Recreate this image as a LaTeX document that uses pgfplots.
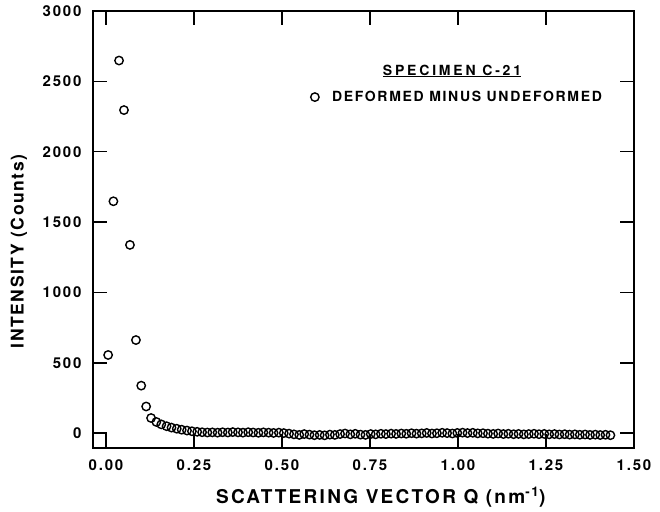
\documentclass[border=0pt]{standalone}
\usepackage{fontspec}
\usepackage{pgfplots}
\pgfplotsset{compat=1.18}
\setmainfont{TeX Gyre Heros}
\newfontfamily\tickfont{TeX Gyre Heros}[LetterSpace=12]
\newfontfamily\xlabfont{TeX Gyre Heros}[LetterSpace=12]
\newfontfamily\ylabfont{TeX Gyre Heros}[LetterSpace=9]
\newfontfamily\legfont{TeX Gyre Heros}[LetterSpace=12]
\newfontfamily\titfont{TeX Gyre Heros}[LetterSpace=20]
\newcommand\tickf{\tickfont\bfseries\fontsize{15}{18}\selectfont}
\begin{document}
\begin{tikzpicture}
\begin{axis}[
  scale only axis,
  width=541pt, height=437pt,
  xmin=-0.037, xmax=1.50,
  ymin=-105, ymax=3000,
  xtick={0,0.25,0.5,0.75,1,1.25,1.5},
  ytick={0,500,1000,1500,2000,2500,3000},
  tick align=inside,
  major tick length=14pt,
  tick style={line width=1.5pt, black},
  axis line style={line width=2.5pt},
  /pgf/number format/assume math mode=true,
  xticklabel={\tickf\pgfmathprintnumber[fixed,fixed zerofill,precision=2]{\tick}},
  yticklabel={\tickf\pgfmathprintnumber[1000 sep={}]{\tick}},
  yticklabel style={xshift=-8pt},
  xticklabel style={yshift=-8pt},
  xlabel={SCATTERING VECTOR Q (nm\textsuperscript{-1})},
  ylabel={INTENSITY (Counts)},
  xlabel style={font=\xlabfont\bfseries\fontsize{19}{22}\selectfont, at={(axis description cs:0.532,0)}, anchor=base, yshift=-55pt},
  ylabel style={font=\ylabfont\bfseries\fontsize{17.5}{20}\selectfont, at={(axis description cs:-0.137,0.45)}, anchor=center},
  legend style={at={(axis description cs:0.402,0.803)}, anchor=west, draw=none, fill=none,
    inner sep=0pt, font=\legfont\bfseries\fontsize{14}{16}\selectfont},
  legend cell align=left,
  clip=false,
]
\addplot[only marks, mark=o, mark size=4.2pt, mark options={line width=1.4pt, black}] coordinates {
(0.006,556) (0.021,1648) (0.037,2648) (0.051,2296) (0.068,1338) (0.085,662)
(0.100,338) (0.114,190) (0.128,108)
(0.143,80) (0.157,63) (0.172,50) (0.186,40) (0.201,32) (0.215,25) (0.230,19)
(0.244,14) (0.259,10) (0.273,7) (0.288,5) (0.302,6) (0.317,4) (0.331,7)
(0.346,5) (0.360,8) (0.375,6) (0.389,4) (0.404,7) (0.418,5) (0.433,3)
(0.447,6) (0.462,4) (0.476,2) (0.491,4) (0.505,1) (0.520,-3) (0.534,-8)
(0.549,-12) (0.563,-6) (0.578,-10) (0.592,-14) (0.607,-12) (0.621,-15)
(0.636,-10) (0.650,-12) (0.665,-6) (0.679,-2) (0.694,-8) (0.708,-4)
(0.723,-10) (0.737,-12) (0.752,-6) (0.766,-8) (0.781,-4) (0.795,-6)
(0.810,-3) (0.824,-5) (0.839,-2) (0.853,-4) (0.868,0) (0.882,-3) (0.897,-1)
(0.911,2) (0.926,-2) (0.940,0) (0.955,3) (0.969,1) (0.984,-2) (0.998,2)
(1.013,4) (1.027,1) (1.042,3) (1.056,-1) (1.071,0) (1.085,-3) (1.100,-5)
(1.114,-2) (1.129,-6) (1.143,-4) (1.158,-7) (1.172,-5) (1.187,-8) (1.201,-6)
(1.216,-4) (1.230,-7) (1.245,-5) (1.259,-8) (1.274,-6) (1.288,-9) (1.303,-7)
(1.317,-10) (1.332,-8) (1.346,-11) (1.361,-9) (1.375,-12) (1.390,-10)
(1.404,-13) (1.419,-11) (1.433,-14)
};
\addlegendentry{\hspace{11pt}DEFORMED MINUS UNDEFORMED}
\node[font=\titfont\bfseries\fontsize{14}{16}\selectfont, anchor=base] at (axis cs:0.983,2545) {\underline{SPECIMEN C-21}};
\end{axis}
\pgfresetboundingbox
\path[use as bounding box] ([shift={(-93pt,-63pt)}]current axis.south west) rectangle ([shift={(26pt,11pt)}]current axis.north east);
\end{tikzpicture}
\end{document}
